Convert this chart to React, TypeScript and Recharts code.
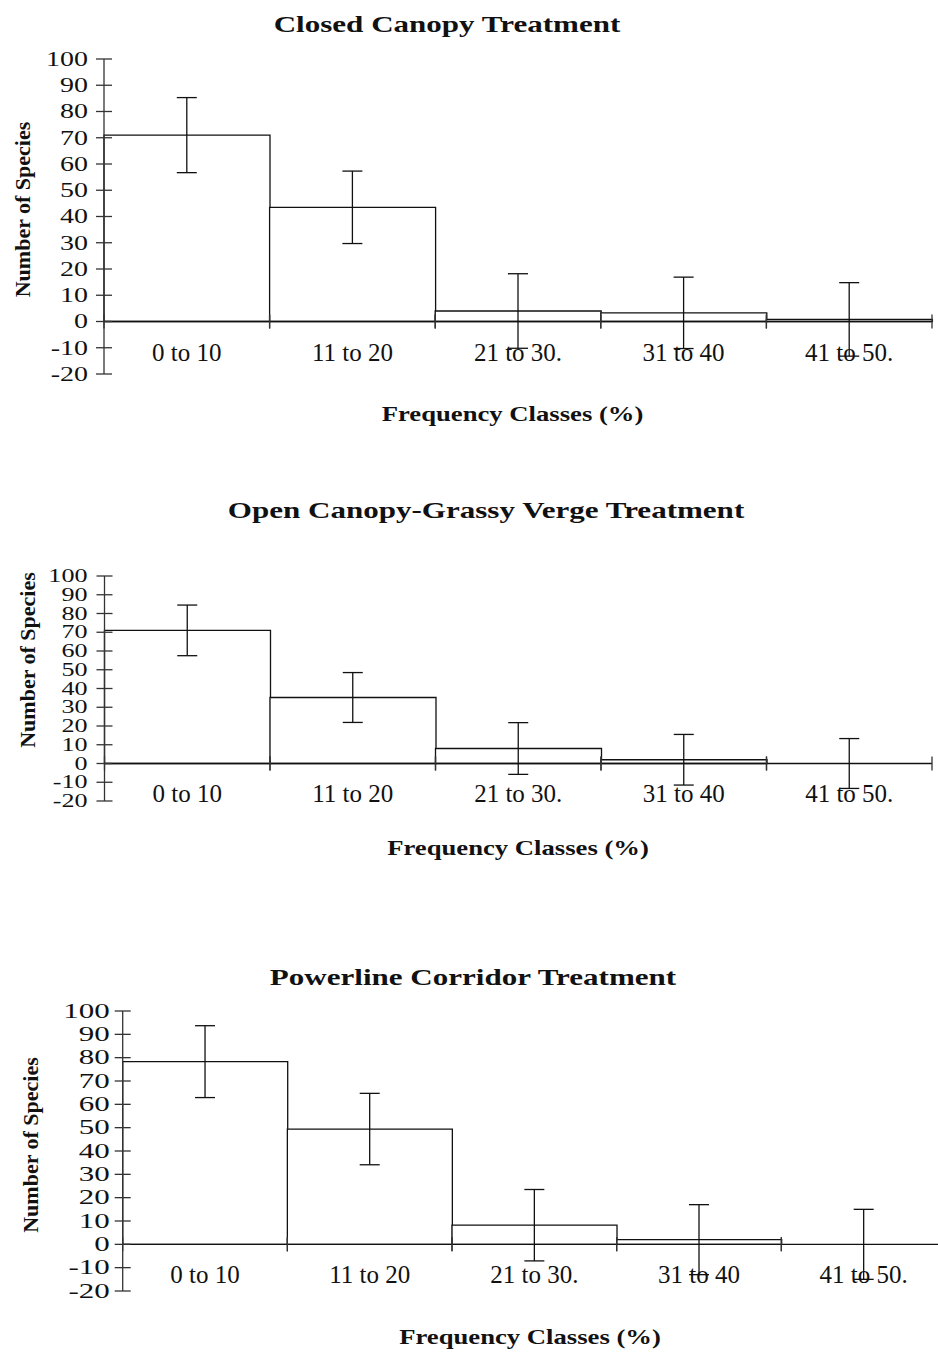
import React from 'react';
import { ComposedChart, Bar, Line, XAxis, YAxis, ErrorBar, ReferenceLine } from 'recharts';

// Frequency classes shared by all three treatments
const categories = ['0 to 10', '11 to 20', '21 to 30.', '31 to 40', '41 to 50.'];
const yTicks = [-20, -10, 0, 10, 20, 30, 40, 50, 60, 70, 80, 90, 100];

// Number of species per frequency class, with error margins
const closedCanopy = [71, 43.5, 4, 3.3, 0.8];
const closedCanopyErr = [14.3, 13.8, 14.2, 13.6, 14];
const openCanopy = [71, 35.2, 8, 2, 0];
const openCanopyErr = [13.5, 13.3, 13.8, 13.5, 13.3];
const powerline = [78.3, 49.4, 8.2, 2, 0];
const powerlineErr = [15.4, 15.3, 15.3, 15, 15];

const titles = [
  'Closed Canopy Treatment',
  'Open Canopy-Grassy Verge Treatment',
  'Powerline Corridor Treatment',
];
const xTitle = 'Frequency Classes (%)';
const yTitle = 'Number of Species';

const Y_MIN = -20;
const Y_MAX = 100;
const FONT = "'Liberation Serif', 'Times New Roman', serif";
const INK = '#111';
const AXIS = '#333';
const PAD_TOP = 10;

type PanelLayout = {
  values: number[];
  errors: number[];
  left: number;
  right: number;
  top: number;
  bottom: number;
  width: number;
  tickFont: number;
  tickScale: number;
  tickGap: number;
  catFont: number;
  catDrop: number;
};

const panels: PanelLayout[] = [
  {
    values: closedCanopy, errors: closedCanopyErr,
    left: 104, right: 932, top: 59, bottom: 374, width: 938,
    tickFont: 20, tickScale: 1.4, tickGap: 16, catFont: 25, catDrop: 39,
  },
  {
    values: openCanopy, errors: openCanopyErr,
    left: 104.5, right: 932, top: 576, bottom: 801, width: 938,
    tickFont: 18, tickScale: 1.45, tickGap: 17, catFont: 25, catDrop: 38,
  },
  {
    values: powerline, errors: powerlineErr,
    left: 122.7, right: 946, top: 1011, bottom: 1291, width: 960,
    tickFont: 20, tickScale: 1.55, tickGap: 13, catFont: 25, catDrop: 39,
  },
];

// Text placement for the titles around each panel
const titlePos = [
  { x: 447, y: 31.7 },
  { x: 486, y: 518 },
  { x: 473, y: 985 },
];
const xTitlePos = [
  { x: 512.5, y: 421 },
  { x: 518, y: 855 },
  { x: 530, y: 1344 },
];
const yTitlePos = [
  { x: 22, y: 209.5 },
  { x: 27, y: 660 },
  { x: 30, y: 1145 },
];

function TreatmentChart({ p }: { p: PanelLayout }) {
  const data = categories.map((c, i) => ({ category: c, value: p.values[i], err: p.errors[i] }));
  const plotH = p.bottom - p.top;
  const plotW = p.right - p.left;
  const band = plotW / categories.length;
  const zeroFromBottom = (plotH * (0 - Y_MIN)) / (Y_MAX - Y_MIN);

  const renderYTick = (props: any) => {
    const { x, y, payload } = props;
    return (
      <g>
        <line x1={x - 8} x2={x + 8} y1={y} y2={y} stroke={AXIS} strokeWidth={1.3} />
        <text
          transform={`translate(${x - p.tickGap},${y}) scale(${p.tickScale},1)`}
          textAnchor="end"
          dy="0.34em"
          fontSize={p.tickFont}
          fontFamily={FONT}
          fill={INK}
        >
          {payload.value}
        </text>
      </g>
    );
  };

  const renderXTick = (props: any) => {
    const { x, y, payload } = props;
    const zeroY = y - zeroFromBottom;
    const l = x - band / 2;
    const r = x + band / 2;
    return (
      <g>
        <line x1={l} x2={l} y1={zeroY - 7} y2={zeroY + 7} stroke={AXIS} strokeWidth={1.3} />
        <line x1={r} x2={r} y1={zeroY - 7} y2={zeroY + 7} stroke={AXIS} strokeWidth={1.3} />
        <text x={x} y={zeroY + p.catDrop} textAnchor="middle" fontSize={p.catFont} fontFamily={FONT} fill={INK}>
          {payload.value}
        </text>
      </g>
    );
  };

  return (
    <div style={{ position: 'absolute', left: 0, top: p.top - PAD_TOP }}>
      <ComposedChart
        width={p.width}
        height={plotH + PAD_TOP + 60}
        data={data}
        margin={{ top: PAD_TOP, right: p.width - p.right, bottom: 59, left: 0 }}
        barCategoryGap={0}
        barGap={0}
      >
        <XAxis
          dataKey="category"
          height={1}
          interval={0}
          axisLine={false}
          tickLine={false}
          tickSize={0}
          tickMargin={0}
          tick={renderXTick}
        />
        <YAxis
          type="number"
          domain={[Y_MIN, Y_MAX]}
          ticks={yTicks}
          interval={0}
          width={p.left}
          allowDataOverflow
          axisLine={{ stroke: AXIS, strokeWidth: 1.3 }}
          tickLine={false}
          tickSize={0}
          tickMargin={0}
          tick={renderYTick}
        />
        <Bar dataKey="value" fill="#fff" stroke={INK} strokeWidth={1.3} isAnimationActive={false} />
        <ReferenceLine y={0} stroke={INK} strokeWidth={1.3} />
        {/* invisible series carrying the error bars, so zero-height classes keep theirs */}
        <Line
          dataKey="value"
          stroke="none"
          dot={false}
          activeDot={false}
          legendType="none"
          isAnimationActive={false}
        >
          <ErrorBar dataKey="err" width={10} stroke={INK} strokeWidth={1.3} direction="y" isAnimationActive={false} />
        </Line>
      </ComposedChart>
    </div>
  );
}

export default function App() {
  return (
    <div
      style={{
        position: 'absolute',
        left: 0,
        top: 0,
        width: 938,
        height: 1353,
        overflow: 'hidden',
        background: '#fff',
      }}
    >
      {panels.map((p, i) => (
        <TreatmentChart key={i} p={p} />
      ))}
      <svg
        width={938}
        height={1353}
        style={{ position: 'absolute', left: 0, top: 0, pointerEvents: 'none' }}
      >
        {titles.map((t, i) => (
          <text
            key={'t' + i}
            transform={`translate(${titlePos[i].x},${titlePos[i].y}) scale(1.35,1)`}
            textAnchor="middle"
            fontSize={23}
            fontWeight="bold"
            fontFamily={FONT}
            fill={INK}
          >
            {t}
          </text>
        ))}
        {xTitlePos.map((pos, i) => (
          <text
            key={'x' + i}
            transform={`translate(${pos.x},${pos.y}) scale(1.27,1)`}
            textAnchor="middle"
            fontSize={21}
            fontWeight="bold"
            fontFamily={FONT}
            fill={INK}
          >
            {xTitle}
          </text>
        ))}
        {yTitlePos.map((pos, i) => (
          <text
            key={'y' + i}
            transform={`translate(${pos.x},${pos.y}) rotate(-90)`}
            textAnchor="middle"
            dominantBaseline="central"
            fontSize={22}
            fontWeight="bold"
            fontFamily={FONT}
            fill={INK}
          >
            {yTitle}
          </text>
        ))}
      </svg>
    </div>
  );
}
